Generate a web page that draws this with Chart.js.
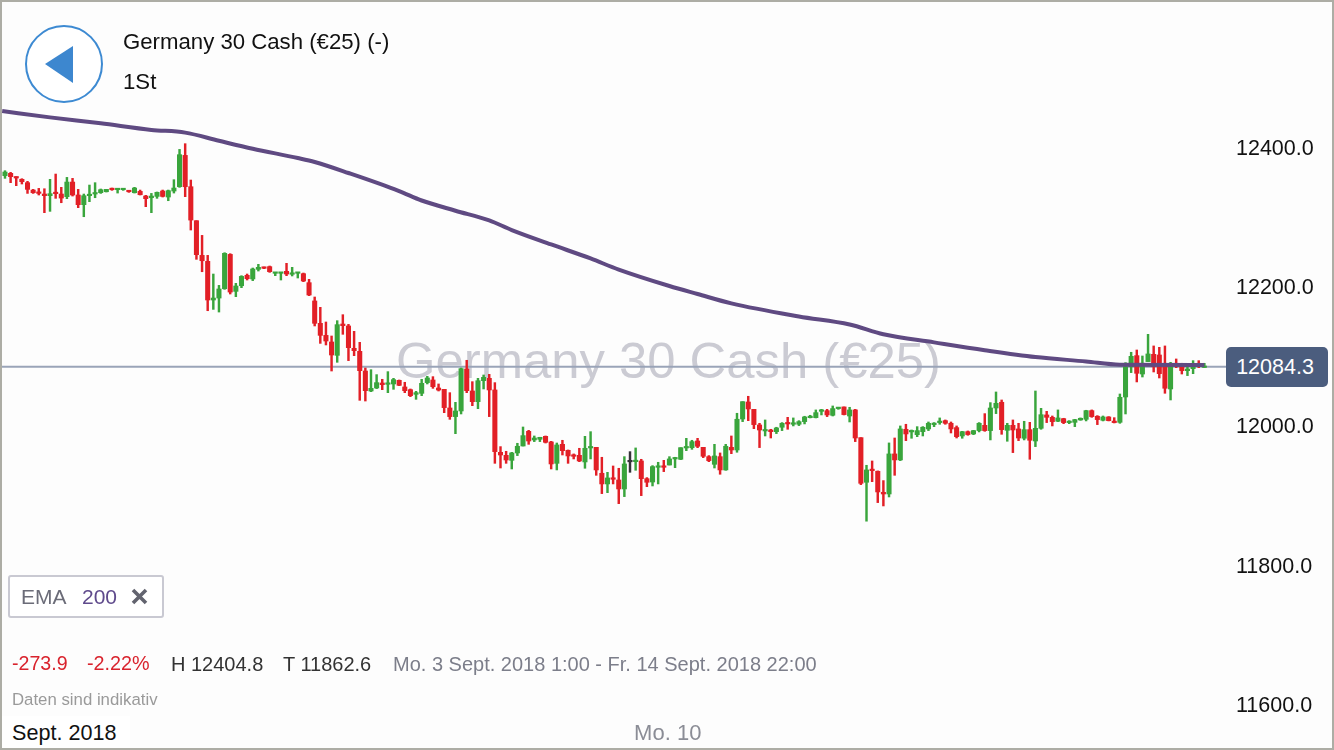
<!DOCTYPE html>
<html lang="de">
<head>
<meta charset="utf-8">
<title>Germany 30 Cash</title>
<script src="https://cdn.jsdelivr.net/npm/chart.js@4/dist/chart.umd.min.js"></script>
<style>
html,body{margin:0;padding:0;background:#fdfdfd;}
body{width:1334px;height:750px;overflow:hidden;position:relative;font-family:"Liberation Sans",Arial,sans-serif;}
#frame{position:absolute;left:0;top:0;width:1330px;height:746px;border:2px solid #adada5;z-index:5;pointer-events:none;}
#chart{position:absolute;left:0;top:0;z-index:2;}
.t{position:absolute;white-space:nowrap;line-height:1;z-index:3;}
#watermark{left:396px;top:336px;font-size:50.8px;color:#cbcbd3;z-index:1;}
#tag{position:absolute;left:1226px;top:347px;width:98px;padding-right:4px;height:40px;border-radius:5px;background:#4b5d7e;color:#fff;font-size:21.5px;line-height:41px;text-align:center;z-index:3;}
#emaBox{position:absolute;left:8px;top:575px;width:152px;height:39px;border:2px solid #c9c9d2;border-radius:3px;background:#fff;z-index:3;}
#sep{position:absolute;left:2px;top:716px;width:128px;height:32px;background:#fff;z-index:3;}
</style>
</head>
<body>
<div id="watermark" class="t">Germany 30 Cash (€25)</div>
<canvas id="chart" width="1334" height="750"></canvas>
<svg style="position:absolute;left:20px;top:20px;z-index:3" width="90" height="90">
<circle cx="44" cy="44" r="38" fill="#fff" stroke="#3d8ad2" stroke-width="2"/>
<polygon points="25,44 53,26 53,63" fill="#3d87cf"/>
</svg>
<div class="t" style="left:123px;top:31px;font-size:22.2px;color:#111">Germany 30 Cash (€25) (-)</div>
<div class="t" style="left:123px;top:71px;font-size:22.2px;color:#111">1St</div>
<div id="emaBox"></div>
<div class="t" style="left:21px;top:586px;font-size:21px;color:#6b6c78">EMA</div>
<div class="t" style="left:82px;top:586px;font-size:21px;color:#5f4a8c">200</div>
<svg style="position:absolute;left:131px;top:588px;z-index:4" width="17" height="17">
<path d="M2 2 L15 15 M15 2 L2 15" stroke="#62636e" stroke-width="3.6" fill="none"/>
</svg>
<div class="t" style="left:12px;top:654px;font-size:19.6px;color:#d9232d">-273.9</div>
<div class="t" style="left:87px;top:654px;font-size:19.8px;color:#d9232d">-2.22%</div>
<div class="t" style="left:171px;top:654px;font-size:20px;color:#333">H 12404.8</div>
<div class="t" style="left:283px;top:654px;font-size:20px;color:#333">T 11862.6</div>
<div class="t" style="left:393px;top:654px;font-size:20px;color:#7c7e8a">Mo. 3 Sept. 2018 1:00 - Fr. 14 Sept. 2018 22:00</div>
<div class="t" style="left:12px;top:692px;font-size:16.8px;color:#9a9a9a">Daten sind indikativ</div>
<div id="sep"></div>
<div class="t" style="left:12px;top:722px;font-size:21.6px;color:#111">Sept. 2018</div>
<div id="tag">12084.3</div>
<div id="frame"></div>
<script>
const opens=[12358.8,12362.2,12356.4,12353.6,12348.8,12338.2,12335.4,12332.5,12330.1,12334.4,
12332.5,12328.7,12349.7,12331.1,12317.2,12330.1,12332.5,12334.4,12335.8,12340.1,
12338.7,12338.7,12337.3,12334.4,12336.3,12329.6,12327.2,12329.1,12336.8,12328.2,
12336.8,12343,12388,12343,12294.2,12244.4,12235.8,12180.3,12183.1,12196.5,
12245.8,12192.7,12200.8,12215.7,12210.5,12224.3,12227.2,12228.2,12218.6,12218.6,
12221.5,12217.2,12218.6,12218.1,12205.2,12178.9,12146.8,12129.5,12120,12100.8,
12145.8,12143,12110.9,12106.6,12078.3,12049.6,12053.9,12061.1,12059.2,12059.7,
12064.9,12055.4,12051.5,12044.8,12046.2,12061.6,12065.4,12053.9,12052,12025.2,
12012.8,12020.9,12081.2,12049.6,12034.3,12064.4,12067.8,12051.1,11961.5,11957.2,
11950,11960.6,11970.6,11991.7,11979.3,11980.2,11984.5,11976.4,11945.7,11973,
11964.4,11957.2,11957.2,11947.7,11967.8,11968.7,11931.4,11916.1,11924.7,11921.8,
11908.9,11947.9,11948.1,11949.1,11923.7,11918.9,11940,11941.9,11943.3,11952,
11951.5,11967.8,11968.2,11977.8,11968.7,11955.3,11944.3,11955.3,11936.2,11968.7,
11964.9,12009.4,12033.8,12023.3,12000.8,11992.2,11993.6,11991.2,11997.5,12004.2,
12001.8,12001.8,12005.6,12011.3,12011.3,12020.4,12021.4,12014.7,12024.3,12026.7,
12013.7,12022.4,11982.6,11918.5,11936.7,11934.3,11904.1,11901.7,11959.2,11950.6,
11994.6,11990.8,11986.9,11991.2,11995.1,12001.3,12004.2,12007,12003.2,11997,
11985,11991.2,11987.9,11992.7,12000.3,11992.7,12025.2,12033.4,11993.1,12000.3,
11995.1,11981.7,11994.1,11977.8,11996,12015.2,12011.8,12006.1,12009.9,12004.2,
12004.6,12008,12008.9,12021.4,12013.3,12007.5,12012.3,12006.1,12004.6,12041,
12084.6,12100.4,12074,12091.8,12102.3,12101.3,12089.4,12052.5,12089.4,12084.6,
12078.8,12081.7,12089.4,12083.4];
const closes=[12364.1,12357.4,12355.5,12350.2,12339.2,12334.4,12333.4,12330.1,12333,12333,
12326.7,12349.7,12331.1,12317.2,12330.1,12332,12334.4,12338.7,12339.2,12338.7,
12340.1,12339.7,12335.8,12341.1,12331.5,12325.8,12329.6,12334.9,12329.1,12337.3,
12341.1,12389,12343,12295.1,12245.4,12236.7,12180.3,12183.1,12196.1,12247.3,
12191.7,12200.4,12214.2,12210.9,12224.8,12227.2,12225.8,12221,12220,12220,
12217.6,12219,12219.5,12207.6,12187.5,12146.8,12129.5,12121.4,12101.3,12144.9,
12143.4,12111.8,12107.5,12078.8,12050.1,12053.4,12061.6,12058.7,12060.6,12065.9,
12057.7,12050.1,12042.9,12047.2,12060.6,12068.3,12055.8,12051,12025.7,12012.8,
12020.9,12081.7,12050.1,12034.3,12064.4,12069.2,12051.1,11962.5,11957.7,11950.5,
11960.6,11970.2,11985.5,11977.8,11982.1,11983.1,11975.9,11944.8,11972.1,11963.9,
11956.3,11955.8,11949.1,11967.3,11969.2,11936.2,11916.1,11924.7,11922.8,11908.9,
11944.8,11947.9,11949.1,11923.7,11918.5,11941,11941.9,11940,11952,11953.4,
11968.2,11969.2,11976.9,11970.2,11955.8,11949.6,11956.3,11936.2,11970.2,11964.9,
12009,12034.3,12023.8,12001.3,11993.6,11993.6,11991.2,11996.5,12003.2,12002.3,
12003.2,12005.6,12012.3,12012.8,12018.5,12022.4,12015.2,12024.3,12025.2,12015.7,
12022.4,11982.1,11917,11936.2,11935.2,11904.6,11901.7,11959.2,11950.6,11995.1,
11987.9,11992.7,11992.7,11997.5,12003.2,12003.2,12006.1,12003.2,11995.1,11984,
11991.2,11987,11992.7,12003.2,11992.7,12025.2,12031.9,11994.1,12000.3,11993.6,
11982.1,11994.1,11978.8,11996,12015.6,12011.8,12005.6,12010.9,12004.2,12006.1,
12008.5,12010.4,12021.4,12012.8,12008.5,12012.3,12007,12004.2,12040.5,12084.6,
12099.4,12075,12089.4,12102.8,12084.6,12074.5,12053.5,12089.4,12085.5,12078.8,
12081.2,12088.4,12087,12084.3];
const highs=[12366,12363.6,12357.4,12354.5,12350.7,12339.2,12340.6,12340.1,12353.6,12361.2,
12342.1,12356.4,12355,12339.2,12332.5,12345.4,12348.8,12339.7,12339.2,12341.1,
12340.6,12340.1,12337.8,12342.1,12338.2,12330.6,12333.4,12335.4,12338.2,12338.2,
12353.1,12396.6,12404.8,12352.6,12294.2,12273.1,12244.4,12217.6,12201.3,12248.2,
12246.8,12204.2,12215.2,12217.6,12226.2,12231.5,12227.7,12229.1,12220,12220,
12233,12227.2,12220,12219,12210,12184.6,12169.8,12148.7,12128.6,12150.6,
12159.2,12145.3,12135.3,12119.5,12082.6,12080.2,12073.1,12066.4,12077.4,12067.8,
12065.4,12062.1,12052.5,12049.1,12066.4,12070.7,12070.2,12059.7,12052,12047.2,
12033.3,12082.6,12093.7,12063,12067.8,12072.6,12073.5,12061.6,11969.7,11963,
11961.5,11974.5,11997.9,11993.1,11985,11983.1,11985,11977.3,11974.9,11978.8,
11964.9,11959.2,11967.3,11984.5,11991.2,11968.7,11954.4,11932.8,11941.9,11938.6,
11955.3,11962.5,11967.8,11951.5,11925.2,11942.4,11947.2,11950,11955.3,11954.4,
11968.2,11981.6,11978.8,11981.6,11968.7,11956.8,11973,11960.6,11973,11985,
12017.6,12034.3,12042,12023.3,12003.2,12008,11994.6,11997.5,12004.2,12011.8,
12010.9,12007,12013.3,12014.7,12022.4,12023.3,12023.3,12028.1,12026.2,12026.7,
12026.2,12023.3,11982.6,11942.9,11949.1,11934.8,11920.9,11975,11982.1,11999.4,
12001.8,11993.6,11998.4,11998.4,12005.1,12004.2,12010.9,12008,12005.1,11999.4,
11991.7,11992.2,11993.1,12004.2,12017.1,12032.9,12048.2,12036.7,12003.2,12008,
12003.2,12006.1,12004.6,12049.6,12024.7,12020.4,12013.7,12022.4,12010.4,12007,
12008.9,12010.9,12021.9,12022.4,12014.2,12013.7,12012.8,12011.3,12045.3,12090.3,
12105.2,12108.5,12099.9,12131,12114.3,12112.3,12114.3,12090.8,12095.6,12089.4,
12083.6,12093.2,12093.2,12089.4];
const lows=[12355,12348.8,12344.5,12346.9,12333.4,12333.4,12331.1,12305.7,12307.6,12326.3,
12320,12325.8,12329.6,12312.9,12299.9,12321.5,12327.2,12333.4,12335.4,12337.8,
12333.9,12337.8,12334.9,12333.9,12331.1,12314.3,12305.7,12326.3,12328.2,12322.9,
12333.9,12342.1,12328.7,12280.8,12238.7,12220.9,12164.9,12166.8,12163,12195.6,
12188.9,12185.1,12198,12209,12208.1,12221.9,12225.3,12220,12215.2,12209,
12215.2,12214.8,12211.9,12206.6,12186.5,12143,12118,12115.7,12078.3,12090.8,
12131,12093.2,12100.3,12036.2,12035.2,12048.6,12053,12051.5,12047.2,12052,
12057.3,12047.2,12041.5,12037.6,12042.9,12059.7,12053.4,12049.6,12018.5,12008.9,
11988.3,12016.6,12047.2,12028.5,12024.2,12052.5,12012.8,11945.7,11939,11945.7,
11937.6,11956.8,11970.6,11973,11976.9,11976.9,11974.9,11937.6,11936.2,11957.7,
11945.7,11952,11948.1,11938.6,11952,11928.5,11902.2,11903.6,11916.1,11887.8,
11897.9,11932.8,11935.7,11899.3,11912.2,11913.2,11916.1,11933.8,11943.3,11939.5,
11951,11963.9,11965.8,11968.2,11953.9,11948.1,11939,11930,11935.7,11959.6,
11961.6,12005.6,12007,11995.5,11968.3,11985,11982.1,11988.4,11992.7,11994.6,
11999.4,11999.9,12002.3,12010.9,12010.9,12015.2,12012.8,12013.7,12023.3,12015.2,
12005.1,11976.9,11915.1,11862.6,11919.4,11889.3,11884.5,11897.4,11928.5,11949.6,
11978.3,11981.7,11984,11985,11992.7,11998.4,12001.8,12001.8,11989.3,11982.1,
11981.7,11986,11986.9,11990.8,11991.7,11979.3,12017.1,11987.4,11977.4,11961.1,
11978.3,11979.3,11951.5,11969.7,11994.6,12004.2,11999.4,12005.6,12002.7,12002.7,
11998.4,12007.5,12006.6,12011.8,12001.3,12006.6,12006.6,12003.7,12003.2,12016.6,
12076,12062.6,12069.7,12091.8,12076.9,12068.3,12046.3,12036.7,12083.1,12074,
12071.7,12074.5,12083.1,12083.2];
const emaIndex=[-0.5,8,17,26,32,38,44,52,55,61,70,74,80,86,90,97,104,109,118,123,129,141,150,156,165,174,183,192,198,213];
const emaValues=[12451.7,12442.6,12434,12424.6,12420.7,12409,12397.6,12384.2,12378.5,12362.7,12336.8,12323.2,12308.5,12294.6,12280.8,12260.1,12239.9,12224,12200.4,12188.9,12175.4,12156.6,12145,12131,12119.4,12108.2,12098.4,12092,12087.4,12087];
const lastPrice=12084.3;
const yTickValues=[11600,11800,12000,12200,12400];
const xTickIndex=[117.7];
const xTickLabels=["Mo. 10"];

const GREEN="#39a53c",RED="#e21f26",DARK="#333338";
const colorOf=i=>closes[i]>opens[i]?GREEN:closes[i]<opens[i]?RED:DARK;
const idx=opens.map((_,i)=>i);
const noPad=s=>{s.paddingTop=0;s.paddingBottom=0;s.paddingLeft=0;s.paddingRight=0;};
new Chart(document.getElementById("chart"),{
  data:{datasets:[
    {type:"line",label:"EMA 200",order:0,data:emaIndex.map((x,i)=>({x,y:emaValues[i]})),borderColor:"#5f4a82",borderWidth:4,pointRadius:0,cubicInterpolationMode:"monotone",clip:false},
    {type:"bar",label:"Body",order:1,grouped:false,barThickness:4.4,minBarLength:1.5,data:idx.map(i=>({x:i,y:[opens[i],closes[i]]})),backgroundColor:idx.map(colorOf)},
    {type:"bar",label:"Wick",order:2,grouped:false,barThickness:1.8,data:idx.map(i=>({x:i,y:[lows[i],highs[i]]})),backgroundColor:idx.map(colorOf)},
    {type:"line",label:"Last",order:3,data:[{x:-0.53,y:lastPrice},{x:217.2,y:lastPrice}],borderColor:"#9aa4b8",borderWidth:2,pointRadius:0}
  ]},
  options:{
    responsive:false,animation:false,
    devicePixelRatio:1,
    layout:{autoPadding:false,padding:{left:2,top:2,right:0,bottom:0}},
    plugins:{legend:{display:false},tooltip:{enabled:false},title:{display:false}},
    scales:{
      x:{type:"linear",offset:false,min:-0.53,max:217.2,grid:{display:false,drawTicks:false},border:{display:false},
        afterBuildTicks:s=>{s.ticks=xTickIndex.map(value=>({value}));},
        afterFit:s=>{s.height=34;noPad(s);},
        ticks:{autoSkip:false,maxRotation:0,padding:5,color:"#8b8d96",font:{family:"Liberation Sans",size:22},callback:v=>xTickLabels[xTickIndex.indexOf(v)]||""}},
      y:{type:"linear",position:"right",min:11582.8,max:12608.3,grid:{display:false,drawTicks:false},border:{display:false},
        afterBuildTicks:s=>{s.ticks=yTickValues.map(value=>({value}));},
        afterFit:s=>{s.width=106;noPad(s);},
        ticks:{padding:8,color:"#111",font:{family:"Liberation Sans",size:21.5,lineHeight:0.19},callback:v=>["",v.toFixed(1)]}}
    }
  }
});
</script>
</body>
</html>
